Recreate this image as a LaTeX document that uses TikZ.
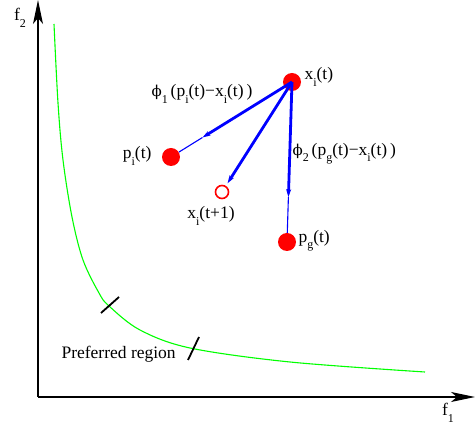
\documentclass[tikz,border=0pt]{standalone}
\usepackage{fontspec}
\setmainfont{Liberation Serif}
\newfontfamily\grk{DejaVu Serif}
\usepackage{tikz}
\usetikzlibrary{arrows.meta,calc,positioning}

\newcommand{\lo}[1]{\raisebox{-0.8ex}{\fontsize{12}{12}\selectfont #1}}
\newcommand{\ph}{{\grk\fontsize{15}{17}\selectfont ϕ}}

\begin{document}
\begin{tikzpicture}[
    x=1pt, y=-1pt,
    font=\fontsize{17.5}{19}\selectfont,
    dot/.style={circle, fill=red, inner sep=0pt, minimum size=18pt},
    hollow/.style={circle, draw=red, line width=1.6pt, fill=white, inner sep=0pt, minimum size=13pt},
    axis/.style={line width=1.3pt, -{Stealth[length=24pt, width=10pt, inset=6pt]}},
    vec/.style={blue, line width=2.8pt, -{Stealth[length=8pt, width=5pt]}},
    part/.style={blue, line width=1.1pt},
    tick/.style={line width=1.8pt}
  ]
    \useasboundingbox (0,0) rectangle (475,430);
    % axes
    \coordinate (O) at (38,397);
    \coordinate (ytop) at (38,0);
    \coordinate (xend) at (475,397);
    \draw[axis] (O) -- (ytop);
    \draw[axis] (O) -- (xend);
    \node (f2) at (20,18) {f\lo{2}};
    \node (f1) at (448,413) {f\lo{1}};
    % front
    \draw[green, line width=1.1pt] plot[smooth, tension=0.55] coordinates {
      (54,24) (58,103) (63,160) (72,217) (83,260) (99,293) (109,306)
      (140,330) (190,348) (290,362) (425,372)};
    \draw[tick] (101,313) -- (119,297);
    \draw[tick] (188,360) -- (199,337);
    \node[anchor=west] (pref) at (58,354) {Preferred region};
    % particles
    \node[dot] (xi) at (292,82) {};
    \node[dot] (pi) at (171,157) {};
    \node[dot] (pg) at (287,242) {};
    \node[hollow] (xn) at (222,192) {};
    \node[anchor=west] (lxi) at (301,77) {x\lo{i}(t)};
    \node[anchor=east] (lpi) at (155,156) {p\lo{i}(t)};
    \node[anchor=west] (lpg) at (295,241) {p\lo{g}(t)};
    \node (lxn) at (211,216) {x\lo{i}(t+1)};
    \node (lc1) at (202,94) {\ph\lo{1}\,(p\lo{i}(t)−x\lo{i}(t)\,)};
    \node[anchor=west] (lc2) at (289,154) {\ph\lo{2}\,(p\lo{g}(t)−x\lo{i}(t)\,)};
    % velocity parts
    \coordinate (ti) at ($(xi)!0.74!(pi)$);
    \coordinate (tg) at ($(xi)!0.72!(pg)$);
    \draw[part] (ti) -- (pi);
    \draw[part] (tg) -- (pg);
    \foreach \t in {ti, tg}
      \draw[vec] (xi.center) -- (\t);
    \draw[vec, shorten >=3pt] (xi.center) -- (xn);
\end{tikzpicture}
\end{document}
